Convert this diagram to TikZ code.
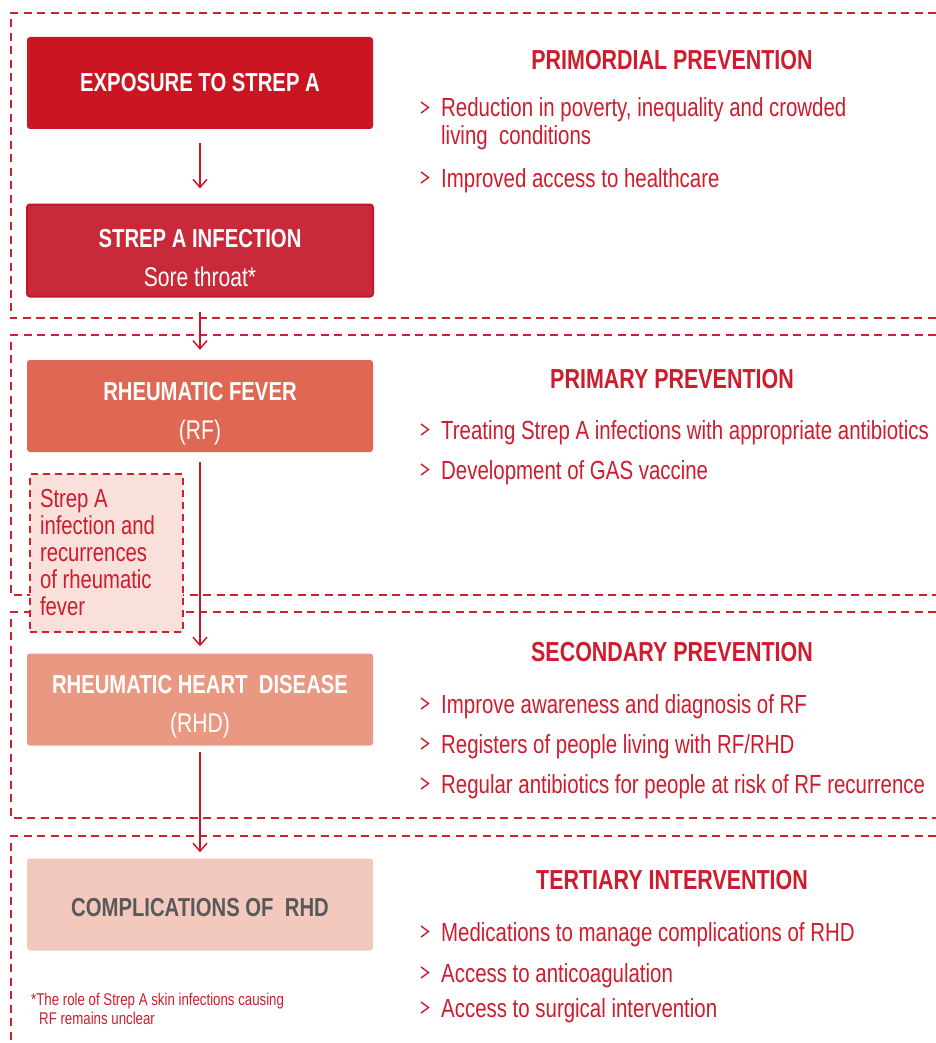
\documentclass[tikz,border=0pt]{standalone}
\usepackage{fontspec}
\setmainfont{Liberation Sans}[FakeStretch=0.78]
\usetikzlibrary{arrows.meta,positioning}

\definecolor{framered}{RGB}{208,32,48}
\definecolor{textred}{RGB}{206,28,44}
\definecolor{arrowred}{RGB}{200,22,40}
\definecolor{expofill}{RGB}{204,21,34}
\definecolor{infectfill}{RGB}{201,42,58}
\definecolor{infectedge}{RGB}{196,22,40}
\definecolor{rffill}{RGB}{222,104,83}
\definecolor{rhdfill}{RGB}{233,152,130}
\definecolor{complfill}{RGB}{243,201,190}
\definecolor{complgray}{RGB}{89,89,89}
\definecolor{recurfill}{RGB}{249,224,218}

\newcommand{\setsz}[2]{\fontsize{#1}{#2}\selectfont}
\newcommand{\toppad}{\rule{0pt}{33pt}}

\begin{document}
\begin{tikzpicture}[x=1pt, y=-1pt,
    frame/.style   = {framered, line width=2.2pt, dash pattern=on 8pt off 5.5pt},
    stage/.style   = {rounded corners=3pt, minimum width=346pt, minimum height=92pt,
                      inner sep=0pt, align=center, text=white, font=\setsz{26}{39}},
    flow/.style    = {draw=arrowred, line width=1.5pt,
                      -{Straight Barb[length=8pt,width=14pt]}},
    heading/.style = {anchor=base, text=textred, font=\setsz{27.5}{30}\bfseries},
    item/.style    = {anchor=base west, text=textred, align=flush left, inner sep=0pt,
                      font=\setsz{26.2}{28}},
    chev/.style    = {textred, line width=1.4pt}
  ]
    \useasboundingbox (0,0) rectangle (936,1043);

    % stage frames, open to the right
    \draw[frame] (936,13)  -- (11,13)  -- (11,318) -- (936,318);
    \draw[frame] (936,335) -- (11,335) -- (11,595) -- (936,595);
    \draw[frame] (936,612) -- (11,612) -- (11,818) -- (936,818);
    \draw[frame] (936,836) -- (11,836) -- (11,1043);

    % disease pathway
    \node[stage, fill=expofill] (expo) at (200,83) {\bfseries EXPOSURE TO STREP A};
    \node[stage, fill=infectfill, draw=infectedge, line width=2pt] (infect) at (200,250.5)
         {\toppad\textbf{STREP A INFECTION}\\ \setsz{27}{39}Sore throat*};
    \node[stage, fill=rffill] (rf) at (200,406)
         {\toppad\textbf{RHEUMATIC FEVER}\\ \setsz{27}{39}(RF)};
    \node[stage, fill=rhdfill] (rhd) at (200,699.5)
         {\toppad\textbf{RHEUMATIC HEART~ DISEASE}\\ \setsz{27}{39}(RHD)};
    \node[stage, fill=complfill, text=complgray] (compl) at (200,904.5)
         {\rule{0pt}{24pt}\bfseries COMPLICATIONS OF~ RHD};

    \node[fill=recurfill, draw=framered, line width=2pt, dash pattern=on 7pt off 5pt,
          minimum height=158pt, text width=133pt, inner xsep=10pt, align=flush left,
          text=textred, font=\setsz{26}{27}] (recur) at (106.5,553)
         {Strep A\\infection and\\recurrences\\of rheumatic\\fever};

    \draw[flow, shorten <=14pt, shorten >=15pt] (expo) -- (infect);
    \draw[flow, shorten <=14pt, shorten >=10pt] (infect) -- (rf);
    \draw[flow, shorten <=10pt, shorten >=7pt]  (rf) -- (rhd);
    \draw[flow, shorten <=6pt,  shorten >=6pt]  (rhd) -- (compl);

    % prevention levels
    \node[heading] (primordial) at (672,70)  {PRIMORDIAL PREVENTION};
    \node[heading] (primary)    at (672,388) {PRIMARY PREVENTION};
    \node[heading] (secondary)  at (672,661) {SECONDARY PREVENTION};
    \node[heading] (tertiary)   at (672,889) {TERTIARY INTERVENTION};

    % \yy = chevron line, \by = base of the last text line
    \foreach \yy/\by/\txt [count=\n] in {
        117/145/{Reduction in poverty, inequality and crowded\\living~ conditions},
        187/187/{Improved access to healthcare},
        439/439/{Treating Strep A infections with appropriate antibiotics},
        479/479/{Development of GAS vaccine},
        713/713/{Improve awareness and diagnosis of RF},
        753/753/{Registers of people living with RF/RHD},
        793/793/{Regular antibiotics for people at risk of RF recurrence},
        941/941/{Medications to manage complications of RHD},
        982/982/{Access to anticoagulation},
        1017/1017/{Access to surgical intervention}}
    {
      \node[item] (item\n) at (441,\by) {\txt};
      \draw[chev] (421,\yy-15) -- (428.5,\yy-9.5) -- (421,\yy-4);
    }

    \node[anchor=base west, inner sep=0pt, align=flush left, text=textred,
          font=\setsz{17}{19}] (note) at (31,1024)
         {*The role of Strep A skin infections causing\\\hspace*{8pt}RF remains unclear};
\end{tikzpicture}
\end{document}
